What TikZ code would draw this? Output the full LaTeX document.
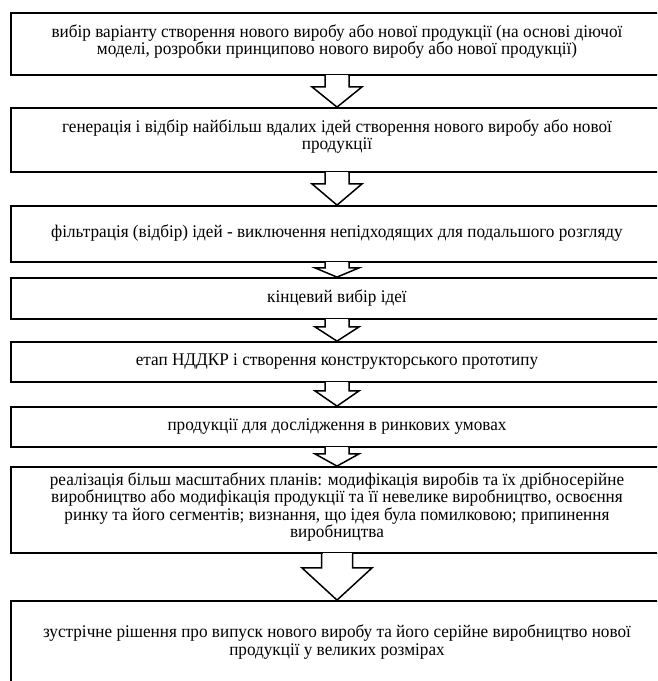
\documentclass[tikz,border=0pt]{standalone}
\usepackage{fontspec}
\setmainfont[FakeStretch=0.965]{Liberation Serif}
\usetikzlibrary{calc}
\tikzset{
  boxnode/.style={draw=black, line width=1.8pt, minimum width=652pt, inner sep=0pt, fill=white},
  txt/.style={align=center, font=\fontsize{17.8}{17.5}\selectfont, inner sep=0pt},
  arrowline/.style={draw=black, line width=1.5pt, line join=miter, fill=white},
}
\newcommand\blockarr[5]{%
  \fill[white] ($(#1.south)+(-#4+1,1)$) rectangle ($(#1.south)+(#4-1,-#3)$);
  \draw[arrowline] ($(#1.south)+(-#4,0)$) -- ++(0,-#3) -- ++(#4-#5,0) -- (#2.north)
     -- ($(#1.south)+(#5,-#3)$) -- ++(#4-#5,0) -- ($(#1.south)+(#4,0)$);
}
\begin{document}
\begin{tikzpicture}[x=1pt,y=1pt]
\useasboundingbox (0,0) rectangle (657,-681);
\clip (0,0) rectangle (657,-681);
\fill[white] (0,0) rectangle (657,-681);
% boxes
\node[boxnode, minimum height=62pt] (b1) at (337,-44) {};
\node[boxnode, minimum height=64pt] (b2) at (337,-140) {};
\node[boxnode, minimum height=56pt] (b3) at (337,-234) {};
\node[boxnode, minimum height=41pt] (b4) at (337,-298.5) {};
\node[boxnode, minimum height=40pt] (b5) at (337,-362) {};
\node[boxnode, minimum height=40pt] (b6) at (337,-427) {};
\node[boxnode, minimum height=86pt] (b7) at (337,-510) {};
\node[boxnode, minimum height=84pt] (b8) at (337,-643) {};
% texts
\node[txt] (t1) at (337,-41.5) {вибір варіанту створення нового виробу або нової продукції (на основі діючої\\моделі, розробки принципово нового виробу або нової продукції)};
\node[txt] (t2) at (337,-136.5) {генерація і відбір найбільш вдалих ідей створення нового виробу або нової\\продукції};
\node[txt] (t3) at (337,-233) {фільтрація (відбір) ідей - виключення непідходящих для подальшого розгляду};
\node[txt] (t4) at (337,-298) {кінцевий вибір ідеї};
\node[txt] (t5) at (337,-362) {етап НДДКР і створення конструкторського прототипу};
\node[txt] (t6) at (337,-427) {продукції для дослідження в ринкових умовах};
\node[txt] (t7) at (337,-507) {реалізація більш масштабних планів: модифікація виробів та їх дрібносерійне\\виробництво або модифікація продукції та її невелике виробництво, освоєння\\ринку та його сегментів; визнання, що ідея була помилковою; припинення\\виробництва};
\node[txt] (t8) at (337,-642) {зустрічне рішення про випуск нового виробу та його серійне виробництво нової\\продукції у великих розмірах};
% block arrows
\blockarr{b1}{b2}{11}{12}{25}
\blockarr{b2}{b3}{11}{12}{25}
\blockarr{b3}{b4}{5}{12}{22}
\blockarr{b4}{b5}{7}{12}{22}
\blockarr{b5}{b6}{8}{12}{22}
\blockarr{b6}{b7}{6}{12}{22}
\blockarr{b7}{b8}{14}{15.5}{35}
\end{tikzpicture}
\end{document}
